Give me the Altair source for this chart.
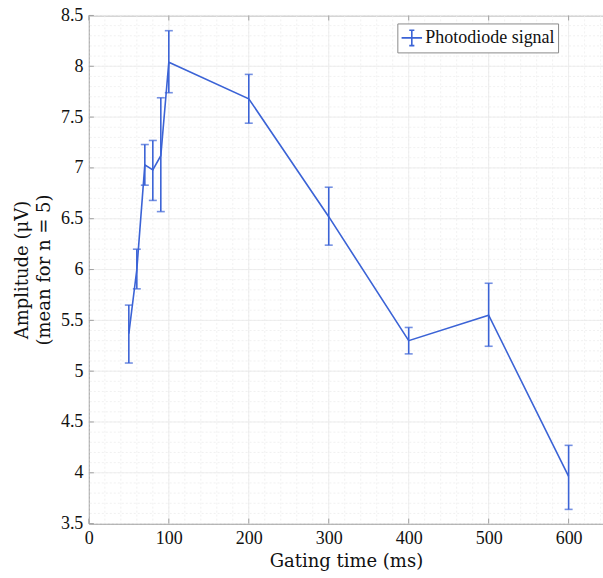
import altair as alt
import pandas as pd

gating_ms = [50, 60, 70, 80, 90, 100, 200, 300, 400, 500, 600]
amp_mean = [5.37, 6.00, 7.03, 6.98, 7.12, 8.04, 7.68, 6.52, 5.30, 5.55, 3.965]
amp_low = [5.08, 5.81, 6.83, 6.68, 6.57, 7.74, 7.44, 6.24, 5.17, 5.245, 3.64]
amp_high = [5.65, 6.20, 7.23, 7.27, 7.69, 8.35, 7.92, 6.81, 5.43, 5.865, 4.27]
series_name = "Photodiode signal"

x_major = [0, 100, 200, 300, 400, 500, 600]
y_major = [3.5, 4, 4.5, 5, 5.5, 6, 6.5, 7, 7.5, 8, 8.5]
x_minor = [v for v in range(0, 641, 20)]
y_minor = [round(3.5 + 0.1 * i, 2) for i in range(51)]

X_DOMAIN = [0, 643]
Y_DOMAIN = [3.5, 8.5]
W, H = 515, 509
BLUE = "#3b63d6"
AX = "#a0a0a0"
FONT = "Liberation Serif"
TFONT = "DejaVu Serif"

df = pd.DataFrame({"x": gating_ms, "m": amp_mean, "lo": amp_low, "hi": amp_high,
                   "s": [series_name] * len(gating_ms)})

xs = alt.Scale(domain=X_DOMAIN, nice=False, zero=False)
ys = alt.Scale(domain=Y_DOMAIN, nice=False, zero=False)

x_axis = alt.Axis(values=x_major, title="Gating time (ms)", grid=False, format="d",
                  ticks=False, domain=True, labelPadding=6, titlePadding=5,
                  labelFlush=False)
y_axis = alt.Axis(values=y_major, title=["Amplitude (μV)", "(mean for n = 5)"],
                  grid=False, ticks=False, domain=True, labelPadding=6, format="~g",
                  titlePadding=7, titleLineHeight=22, labelFlush=False)

minor_x = alt.Chart(pd.DataFrame({"v": x_minor})).mark_rule(
    color="#ededed", strokeDash=[2, 2], strokeWidth=0.8).encode(
    x=alt.X("v:Q", scale=xs, axis=x_axis))
minor_y = alt.Chart(pd.DataFrame({"v": y_minor})).mark_rule(
    color="#ededed", strokeDash=[2, 2], strokeWidth=0.8).encode(
    y=alt.Y("v:Q", scale=ys, axis=y_axis))
major_x = alt.Chart(pd.DataFrame({"v": x_major})).mark_rule(
    color="#eaeaea", strokeWidth=0.8).encode(x=alt.X("v:Q", scale=xs, axis=x_axis))
major_y = alt.Chart(pd.DataFrame({"v": y_major})).mark_rule(
    color="#eaeaea", strokeWidth=0.8).encode(y=alt.Y("v:Q", scale=ys, axis=y_axis))

# inward ticks
tick_bottom = alt.Chart(pd.DataFrame({"v": x_major})).mark_rule(color=AX).encode(
    x=alt.X("v:Q", scale=xs, axis=x_axis), y=alt.value(H), y2=alt.value(H - 5))
tick_top = alt.Chart(pd.DataFrame({"v": x_major})).mark_rule(color=AX).encode(
    x=alt.X("v:Q", scale=xs, axis=x_axis), y=alt.value(0), y2=alt.value(5))
tick_left = alt.Chart(pd.DataFrame({"v": y_major})).mark_rule(color=AX).encode(
    y=alt.Y("v:Q", scale=ys, axis=y_axis), x=alt.value(0), x2=alt.value(5))

line = alt.Chart(df).mark_line(strokeWidth=1.6).encode(
    x=alt.X("x:Q", scale=xs, axis=x_axis),
    y=alt.Y("m:Q", scale=ys, axis=y_axis),
    color=alt.Color("s:N", scale=alt.Scale(range=[BLUE]),
                    legend=alt.Legend(title=None, orient="none", legendX=309, legendY=8,
                                      strokeColor="#8a8a8a", fillColor="white",
                                      padding=3,
                                      symbolType="M-1,0H1M0,-0.75V0.75M-0.25,-0.75H0.25M-0.25,0.75H0.25",
                                      symbolSize=420, symbolStrokeWidth=1.6,
                                      labelFont=FONT, labelFontSize=18,
                                      labelColor="#111111", labelOffset=2)),
)

bars = alt.Chart(df).mark_rule(color=BLUE, strokeWidth=1.6).encode(
    x=alt.X("x:Q", scale=xs, axis=x_axis), y=alt.Y("lo:Q", scale=ys, axis=y_axis), y2="hi:Q")
cap_lo = alt.Chart(df).mark_tick(color=BLUE, orient="horizontal", size=8, thickness=1.6).encode(
    x=alt.X("x:Q", scale=xs, axis=x_axis), y=alt.Y("lo:Q", scale=ys, axis=y_axis))
cap_hi = alt.Chart(df).mark_tick(color=BLUE, orient="horizontal", size=8, thickness=1.6).encode(
    x=alt.X("x:Q", scale=xs, axis=x_axis), y=alt.Y("hi:Q", scale=ys, axis=y_axis))

chart = alt.layer(
    minor_x, minor_y, major_x, major_y, tick_bottom, tick_top, tick_left,
    line, bars, cap_lo, cap_hi
).properties(
    width=W, height=H,
    background="white",
    autosize=alt.AutoSizeParams(type="none"),
    padding={"left": 89, "top": 15, "right": 0, "bottom": 54},
).configure_view(stroke=AX, strokeWidth=1).configure_axis(
    domainColor=AX, labelFont=FONT, titleFont=TFONT, labelFontSize=18,
    titleFontSize=18, titleFontWeight="normal", labelColor="#111111",
    titleColor="#111111",
)

chart.save("out.html", embed_options={"renderer": "svg", "actions": False})
